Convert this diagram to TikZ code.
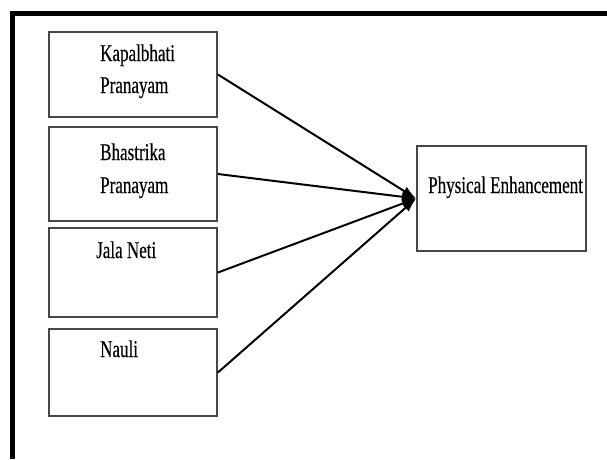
\documentclass[tikz,border=0pt]{standalone}
\usepackage{fontspec}
\setmainfont[FakeStretch=0.71,FakeBold=0.4]{Liberation Serif}
\usetikzlibrary{arrows.meta}
\tikzset{
  box/.style={draw=black!72, line width=1.8pt, inner sep=0pt},
  lbl/.style={anchor=base west, inner sep=0pt, font=\fontsize{24}{28}\selectfont},
  conn/.style={-{Latex[length=14pt,width=10pt]}, line width=2pt}
}
\begin{document}
\begin{tikzpicture}[x=1pt,y=-1pt]
                        %\helpgrid{2}{2};
                        \useasboundingbox (0,0) rectangle (607,459);
                        \fill [white] (0,0) rectangle (607,459);
                        \draw [line width=5pt] (12.5,459) -- (12.5,13.5) -- (607,13.5);

                        \node [box, minimum width=168pt, minimum height=85pt] (kap) at (133,74.5) {};
                        \node [box, minimum width=168pt, minimum height=94pt] (bha) at (133,174) {};
                        \node [box, minimum width=168pt, minimum height=89pt] (jal) at (133,272.5) {};
                        \node [box, minimum width=168pt, minimum height=87pt] (nau) at (133,372.5) {};
                        \node [box, minimum width=169pt, minimum height=105pt] (phy) at (501.5,198.5) {};

                        \node [lbl] (kapA) at (100,61) {Kapalbhati};
                        \node [lbl] (kapB) at (100,93) {Pranayam};
                        \node [lbl] (bhaA) at (100,160) {Bhastrika};
                        \node [lbl] (bhaB) at (100,193) {Pranayam};
                        \node [lbl] (jalA) at (96,258) {Jala Neti};
                        \node [lbl] (nauA) at (100,357) {Nauli};
                        \node [lbl] (phyA) at (428,193) {Physical Enhancement};

                        \draw [conn] (kap.east) -- (phy.west);
                        \draw [conn] (bha.east) -- (phy.west);
                        \draw [conn] (jal.east) -- (phy.west);
                        \draw [conn] (nau.east) -- (phy.west);
                    \end{tikzpicture}
\end{document}
